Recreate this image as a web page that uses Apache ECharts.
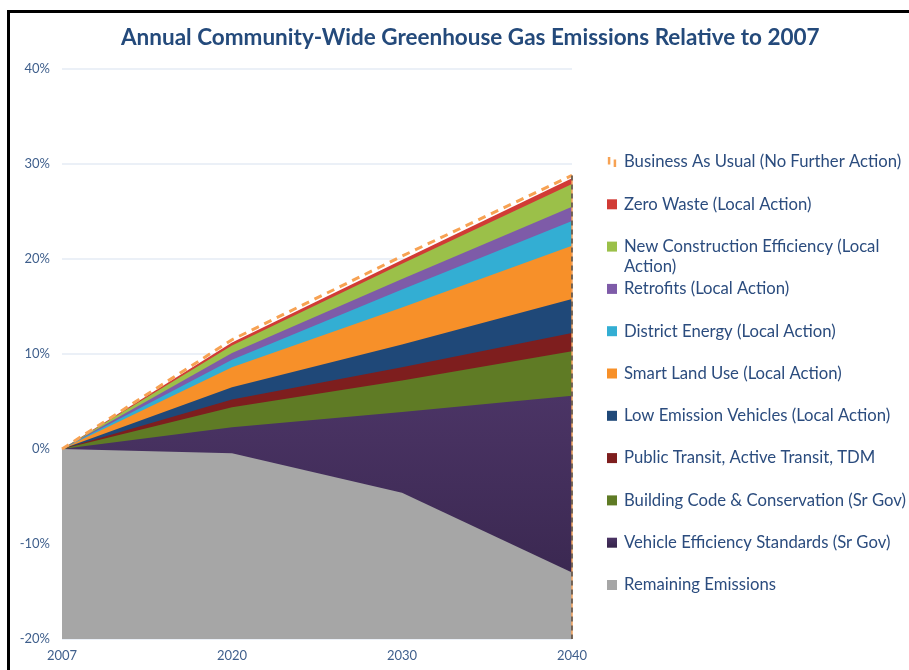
<!DOCTYPE html>
<html>
<head>
<meta charset="utf-8">
<script src="https://cdn.jsdelivr.net/npm/echarts@6/dist/echarts.min.js"></script>
<style>
  html, body { margin: 0; padding: 0; background: #ffffff; }
  #chart { width: 909px; height: 670px; }
</style>
</head>
<body>
<div id="chart"></div>
<script>
// Years on the horizontal axis
const years = ['2007', '2020', '2030', '2040'];

// Emission level (% relative to 2007) remaining after each cumulative wedge
const businessAsUsual     = [0, 11.5, 20.3, 28.8];
const zeroWaste           = [0, 11.2, 19.9, 28.5];
const newConstruction     = [0, 10.9, 19.5, 27.9];
const retrofits           = [0, 10.1, 17.9, 25.5];
const districtEnergy      = [0, 9.4, 16.8, 24.0];
const smartLandUse        = [0, 8.6, 14.9, 21.4];
const lowEmissionVehicles = [0, 6.5, 11.0, 15.8];
const publicTransit       = [0, 5.2, 8.6, 12.2];
const buildingCode        = [0, 4.4, 7.2, 10.3];
const vehicleEfficiency   = [0, 2.3, 3.9, 5.6];
const remainingEmissions  = [0, -0.45, -4.6, -13.0];

// Axis tick settings
const yMin = -20, yMax = 40, yStep = 10;

const NAMES = {
  bau: 'Business As Usual (No Further Action)',
  zw: 'Zero Waste (Local Action)',
  nc: 'New Construction Efficiency (Local Action)',
  rf: 'Retrofits (Local Action)',
  de: 'District Energy (Local Action)',
  sl: 'Smart Land Use (Local Action)',
  lev: 'Low Emission Vehicles (Local Action)',
  pt: 'Public Transit, Active Transit, TDM',
  bc: 'Building Code & Conservation (Sr Gov)',
  ve: 'Vehicle Efficiency Standards (Sr Gov)',
  re: 'Remaining Emissions'
};

const FONT = 'Lato, "Open Sans", sans-serif';
const TEXT_BLUE = '#2B4C7E';

// Each wedge is an area filled down to the axis minimum; lower wedges are painted over higher ones
const wedges = [
  { name: NAMES.zw,  data: zeroWaste,           color: '#D13B35' },
  { name: NAMES.nc,  data: newConstruction,     color: '#9BC049' },
  { name: NAMES.rf,  data: retrofits,           color: '#7E5BA8' },
  { name: NAMES.de,  data: districtEnergy,      color: '#33AED3' },
  { name: NAMES.sl,  data: smartLandUse,        color: '#F79029' },
  { name: NAMES.lev, data: lowEmissionVehicles, color: '#1F4878' },
  { name: NAMES.pt,  data: publicTransit,       color: '#7E1E1E' },
  { name: NAMES.bc,  data: buildingCode,        color: '#5F7B25' },
  { name: NAMES.ve,  data: vehicleEfficiency,
    color: new echarts.graphic.LinearGradient(0, 0, 0, 1, [
      { offset: 0, color: '#4B3465' },
      { offset: 1, color: '#35244A' }
    ]) },
  { name: NAMES.re,  data: remainingEmissions,  color: '#A6A6A6' }
];

const areaSeries = wedges.map(w => ({
  name: w.name,
  type: 'line',
  data: w.data,
  symbol: 'none',
  lineStyle: { width: 0 },
  itemStyle: { color: w.color },
  areaStyle: { color: w.color, opacity: 1, origin: 'start' },
  z: 2
}));

const bauSeries = {
  name: NAMES.bau,
  type: 'line',
  data: businessAsUsual,
  symbol: 'none',
  z: 4,
  itemStyle: { color: '#F7A253' },
  lineStyle: { color: '#F7A253', width: 3, type: [8, 6] },
  markLine: {
    silent: true,
    symbol: 'none',
    label: { show: false },
    animation: false,
    data: [
      [
        { coord: [years[3], businessAsUsual[3]], lineStyle: { color: '#F2A25C', width: 1.5, type: 'solid' } },
        { coord: [years[3], yMin] }
      ],
      [
        { coord: [years[3], businessAsUsual[3]], lineStyle: { color: '#4E4E4E', width: 1.5, type: [5, 4] } },
        { coord: [years[3], yMin] }
      ]
    ]
  }
};

const chart = echarts.init(document.getElementById('chart'), null, { renderer: 'canvas' });

chart.setOption({
  animation: false,
  backgroundColor: '#ffffff',
  textStyle: { fontFamily: FONT },
  title: {
    text: 'Annual Community-Wide Greenhouse Gas Emissions Relative to 2007',
    left: 116,
    top: 21,
    textStyle: { fontFamily: FONT, fontSize: 22.5, fontWeight: 'bold', color: '#244A7B' }
  },
  grid: { left: 62, top: 69, width: 510, height: 570, containLabel: false },
  xAxis: {
    type: 'category',
    data: years,
    boundaryGap: false,
    axisLine: { lineStyle: { color: '#D3DCE8', width: 1 } },
    axisTick: { show: true, length: 5, lineStyle: { color: '#D3DCE8' } },
    axisLabel: { fontFamily: FONT, fontSize: 13, color: '#3F5F8C', margin: 10 },
    splitLine: { show: false }
  },
  yAxis: {
    type: 'value',
    min: yMin,
    max: yMax,
    interval: yStep,
    axisLine: { show: false },
    axisTick: { show: false },
    axisLabel: { fontFamily: FONT, fontSize: 13, color: '#3F5F8C', margin: 12, formatter: '{value}%' },
    splitLine: { show: true, lineStyle: { color: '#E4EBF4', width: 1.5 } }
  },
  legend: {
    orient: 'vertical',
    left: 607,
    top: 153,
    padding: 0,
    itemWidth: 10,
    itemHeight: 10,
    itemGap: 24.3,
    icon: 'rect',
    selectedMode: false,
    textStyle: { fontFamily: FONT, fontSize: 16.7, color: TEXT_BLUE, lineHeight: 18, padding: [0, 0, 0, 2] },
    formatter: name => (name === NAMES.nc ? 'New Construction Efficiency (Local' : name),
    data: [
      { name: NAMES.bau, icon: 'path://M0,0h3v9h-3zM7,3h3v9h-3z' },
      NAMES.zw, NAMES.nc, NAMES.rf, NAMES.de, NAMES.sl,
      NAMES.lev, NAMES.pt, NAMES.bc, NAMES.ve, NAMES.re
    ]
  },
  graphic: [
    {
      type: 'text',
      left: 624,
      top: 258,
      style: { text: 'Action)', font: '16.7px ' + FONT, fill: TEXT_BLUE }
    },
    {
      type: 'rect',
      shape: { x: 8.5, y: 11.5, width: 1000, height: 1000 },
      style: { fill: 'none', stroke: '#000000', lineWidth: 3 },
      silent: true,
      z: 100
    }
  ],
  series: [bauSeries].concat(areaSeries)
});
</script>
</body>
</html>
